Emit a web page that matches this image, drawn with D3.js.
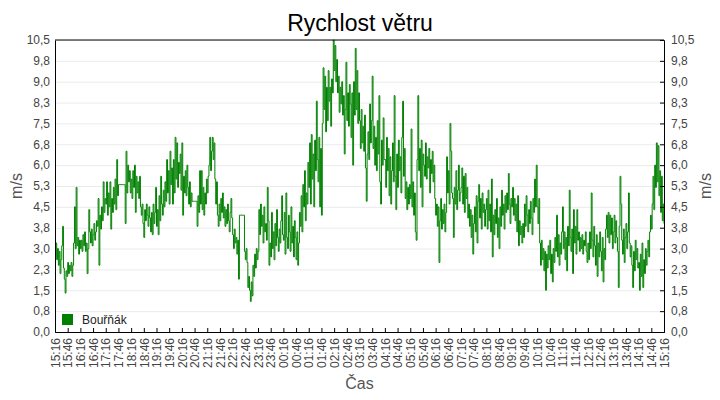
<!DOCTYPE html>
<html>
<head>
<meta charset="utf-8">
<title>Rychlost větru</title>
<script src="https://cdnjs.cloudflare.com/ajax/libs/d3/7.8.5/d3.min.js"></script>
<style>
body{
margin:0;
background:#fff
}
svg{
display:block;
font-family:"Liberation Sans",Arial,sans-serif
}
</style>
</head>
<body>
<svg width="720" height="400"></svg>

<script>

// wind speed, one reading every 2 minutes from 15:16 to 15:16 next day
var startTime = Date.UTC(2020, 0, 1, 15, 16)
var stepMinutes = 2
var speed = [
	// 15:16
	2.7,3.2,2.6,3.0,2.4,2.9,2.1,2.6,3.1,3.8,
	2.3,1.9,1.4,2.2,2.0,2.5,2.1,2.4,2.2,2.5,
	2.0,2.4,3.2,4.5,3.0,5.2,3.1,3.4,2.8,3.3,
	// 16:16
	3.0,3.3,2.9,3.5,3.1,3.6,2.9,3.2,2.1,3.0,
	4.4,3.6,3.2,3.7,3.1,3.5,3.9,3.3,3.6,4.0,
	3.8,4.8,2.4,4.2,3.7,4.5,4.0,5.4,4.3,4.8,
	// 17:16
	4.6,5.4,4.2,5.0,4.5,5.4,3.7,4.8,4.3,5.2,
	4.6,5.5,4.4,6.2,4.9,5.3,5.3,5.3,5.3,5.3,
	5.3,5.3,5.3,3.9,6.5,5.0,6.0,5.4,5.8,5.0,
	// 18:16
	5.5,4.8,5.8,5.2,6.0,4.3,5.6,5.0,5.4,4.8,
	5.6,4.5,4.2,4.6,3.9,3.4,4.4,4.0,4.6,4.2,
	3.8,4.5,4.1,3.6,4.3,3.5,4.6,3.9,4.3,5.2,
	// 19:16
	3.8,4.4,3.5,4.9,4.0,5.6,4.6,4.2,5.1,4.5,
	5.4,4.7,6.2,5.0,5.8,4.6,6.5,5.3,5.9,4.6,
	6.2,5.0,7.0,5.5,6.8,5.2,6.1,5.7,6.4,5.1,
	// 20:16
	6.8,4.2,5.6,5.0,5.8,4.9,6.0,5.2,4.6,5.4,
	4.5,5.0,4.7,4.7,4.7,4.7,4.7,4.7,3.8,4.9,
	4.3,5.8,4.6,5.8,4.4,5.2,4.2,5.0,4.6,5.5,
	// 21:16
	5.0,5.6,6.0,7.0,5.8,6.5,7.0,6.2,6.8,5.5,
	4.6,5.4,4.2,3.8,4.6,4.0,4.8,4.3,5.0,4.1,
	4.5,3.8,4.4,3.9,4.6,4.0,3.6,4.3,4.8,4.1,
	// 22:16
	3.5,3.0,3.7,3.2,3.4,2.8,3.3,1.9,4.2,4.2,
	4.2,4.2,4.2,4.2,2.9,2.6,3.0,2.5,1.6,2.0,
	1.5,1.1,1.8,1.3,2.4,2.0,2.8,2.3,3.0,2.6,
	// 23:16
	2.9,4.4,3.5,4.6,3.8,4.2,3.2,4.5,3.6,3.9,
	3.3,5.2,4.0,2.4,3.2,2.7,4.3,3.0,3.6,2.6,
	3.9,3.1,4.4,3.4,2.9,3.7,3.2,4.0,4.9,3.5,
	// 00:16
	3.3,4.3,2.8,5.0,3.4,3.0,4.2,3.6,2.9,4.5,
	3.2,3.8,2.7,4.0,3.4,2.6,3.6,2.4,3.2,4.3,
	3.8,4.9,3.6,5.3,4.5,5.8,4.0,5.0,4.6,6.1,
	// 01:16
	5.2,6.8,4.6,7.1,5.5,6.4,4.5,6.9,5.8,8.3,
	6.2,5.4,7.0,4.5,6.6,4.2,7.5,9.5,8.0,9.2,
	7.2,8.8,7.6,9.4,8.3,8.8,7.4,9.1,8.6,10.5,
	// 02:16
	9.4,10.3,9.0,9.8,8.6,9.2,7.9,8.8,8.2,9.0,
	7.8,8.5,6.4,8.0,9.7,7.6,8.6,7.4,8.9,8.2,
	7.0,8.6,6.0,9.0,7.8,10.2,8.0,9.4,7.5,8.6,
	// 03:16
	7.6,6.6,8.0,6.8,7.4,6.5,7.8,5.9,4.7,6.4,
	7.2,6.2,8.2,6.8,7.6,9.2,6.6,7.4,6.0,7.0,
	5.8,7.6,6.4,8.5,5.4,4.6,6.9,6.0,7.7,6.2,
	// 04:16
	6.2,5.2,7.0,5.8,6.6,4.9,6.3,4.6,5.8,6.8,
	5.4,8.5,5.6,4.4,6.4,5.2,6.9,5.8,6.3,5.0,
	7.0,8.3,5.6,6.6,4.8,5.4,4.4,5.2,4.6,5.3,
	// 05:16
	4.8,7.3,4.5,5.4,4.2,5.0,3.6,3.3,6.2,8.5,
	5.8,6.6,5.2,6.9,4.5,6.4,6.0,5.6,6.8,5.5,
	6.3,5.9,6.6,5.0,6.2,5.7,6.5,5.4,6.0,4.8,
	// 06:16
	4.2,4.6,3.8,4.5,2.5,4.0,4.8,3.7,4.4,3.9,
	4.6,3.6,4.3,6.3,5.0,5.8,4.6,7.5,6.5,5.0,
	4.8,3.4,5.2,4.6,5.8,4.4,5.1,6.0,4.7,5.0,
	// 07:16
	5.2,5.9,4.6,5.6,4.3,5.7,4.8,5.2,4.1,4.6,
	3.8,4.4,3.4,4.2,2.8,3.9,4.5,3.6,4.9,3.2,
	4.7,5.3,4.1,4.8,3.7,5.0,4.3,4.6,3.8,4.4,
	// 08:16
	4.8,3.7,5.1,4.0,4.6,3.6,5.5,2.7,4.2,3.5,
	4.4,3.9,4.8,3.4,4.1,3.0,4.5,3.8,5.1,4.2,
	4.6,3.7,4.9,4.3,5.0,4.4,5.7,4.6,3.9,4.8,
	// 09:16
	4.5,5.2,4.2,4.8,4.0,4.6,3.6,4.9,3.1,4.0,
	3.5,3.8,3.2,3.9,3.4,4.6,3.8,4.9,4.2,3.6,
	4.4,3.9,4.7,4.1,3.5,4.8,4.3,5.5,4.5,6.0,
	// 10:16
	4.5,3.9,4.8,3.2,2.4,3.3,2.6,3.0,2.2,2.9,
	1.5,2.8,2.3,3.1,2.6,3.3,2.1,2.8,1.8,3.0,
	2.5,3.4,2.9,4.2,2.7,3.5,2.4,3.2,2.8,3.6,
	// 11:16
	4.5,3.0,3.6,2.6,3.4,2.2,3.8,3.1,5.1,3.4,
	2.9,3.7,2.1,4.4,3.2,3.8,2.8,4.4,3.3,3.6,
	2.9,3.4,3.0,3.5,2.8,3.3,3.1,3.6,2.9,2.5,
	// 12:16
	3.2,2.6,3.6,3.0,5.0,3.3,2.7,3.8,3.1,2.4,
	3.5,2.0,3.2,2.7,3.6,2.9,2.2,3.4,1.8,3.0,
	2.6,3.7,4.2,3.4,4.3,3.2,4.2,3.5,4.1,3.0,
	// 13:16
	3.6,4.2,3.2,4.0,3.4,2.9,1.6,3.8,5.6,4.6,
	3.3,2.8,3.7,2.5,3.4,3.9,3.0,3.6,5.0,3.2,
	2.7,3.1,2.4,1.6,2.9,2.2,3.3,2.6,3.0,2.3,
	// 14:16
	2.5,1.5,2.8,2.0,3.2,1.6,2.6,2.1,3.0,2.4,
	2.9,3.3,2.7,3.6,4.2,3.7,4.6,5.6,4.4,6.0,
	5.2,6.8,5.4,6.7,4.9,5.8,4.3,5.6,4.0,4.6,
	// 15:16
	3.9
]
var yTicks = [0, 0.75, 1.5, 2.25, 3, 3.75, 4.5, 5.25, 6, 6.75, 7.5, 8.25, 9, 9.75, 10.5]
var xTickMinutes = 30
var xTickCount = 49
var seriesName = "Bouřňák"
var title = "Rychlost větru"
var yTitle = "m/s"
var xTitle = "Čas"

var svg = d3.select('svg')
var margin = {top: 40, right: 56, bottom: 68, left: 55}
var width = 720 - margin.left - margin.right
var height = 400 - margin.top - margin.bottom

var data = speed.map((v, i) => ({t: new Date(startTime + i * stepMinutes * 60000), v: v}))
var xTicks = d3.range(xTickCount).map(i => new Date(startTime + i * xTickMinutes * 60000))

var x = d3.scaleUtc()
	.domain([data[0].t, data[data.length - 1].t])
	.range([0, width])
var y = d3.scaleLinear()
	.domain([0, 10.5])
	.range([height, 0])

var fmtY = d => d.toFixed(1).replace('.', ',')

var g = svg.append('g').attr('transform', `translate(${margin.left},${margin.top})`)

// horizontal grid
g.append('g')
	.call(d3.axisLeft(y).tickValues(yTicks).tickSize(-width).tickFormat(''))
	.call(s => s.select('.domain').remove())
	.call(s => s.selectAll('line').attr('stroke', '#ebebeb'))

// series
var line = d3.line()
	.x(d => x(d.t))
	.y(d => y(d.v))
	.curve(d3.curveStepAfter)

g.append('path')
	.datum(data)
	.attr('fill', 'none')
	.attr('stroke', '#008000')
	.attr('stroke-width', 1)
	.attr('d', line)

// axes
g.append('g')
	.call(d3.axisLeft(y).tickValues(yTicks).tickSize(0).tickPadding(5).tickFormat(fmtY))
	.call(s => s.select('.domain').attr('stroke', '#000'))
	.call(s => s.selectAll('text').attr('fill', '#444').attr('font-size', 12).attr('font-family', null))

g.append('g')
	.attr('transform', `translate(${width},0)`)
	.call(d3.axisRight(y).tickValues(yTicks).tickSize(-4).tickPadding(7).tickFormat(fmtY))
	.call(s => s.select('.domain').attr('stroke', '#000'))
	.call(s => s.selectAll('line').attr('stroke', '#000'))
	.call(s => s.selectAll('text').attr('fill', '#444').attr('font-size', 12).attr('font-family', null))

g.append('g')
	.attr('transform', `translate(0,${height})`)
	.call(d3.axisBottom(x).tickValues(xTicks).tickSize(-4).tickFormat(d3.utcFormat('%H:%M')))
	.call(s => s.select('.domain').attr('stroke', '#000'))
	.call(s => s.selectAll('line').attr('stroke', '#000'))
	.call(s => s.selectAll('text')
		.attr('fill', '#444')
		.attr('font-size', 12)
		.attr('font-family', null)
		.attr('text-anchor', 'end')
		.attr('transform', 'rotate(-90)')
		.attr('x', -6)
		.attr('y', 0)
		.attr('dy', '0.35em'))

g.append('line')
	.attr('x1', 0).attr('x2', width)
	.attr('y1', 0).attr('y2', 0)
	.attr('stroke', '#000')

// legend
var legend = g.append('g').attr('transform', `translate(7,${height - 18})`)
legend.append('rect')
	.attr('width', 11).attr('height', 11)
	.attr('fill', '#008000')
legend.append('text')
	.attr('x', 20).attr('y', 10)
	.attr('font-size', 12)
	.attr('fill', '#222')
	.text(seriesName)

// titles
svg.append('text')
	.attr('x', 360).attr('y', 31)
	.attr('text-anchor', 'middle')
	.attr('font-size', 23)
	.attr('fill', '#000')
	.text(title)

svg.append('text')
	.attr('transform', `translate(22,${margin.top + height / 2}) rotate(-90)`)
	.attr('text-anchor', 'middle')
	.attr('font-size', 16)
	.attr('fill', '#555')
	.text(yTitle)

svg.append('text')
	.attr('transform', `translate(711,${margin.top + height / 2}) rotate(-90)`)
	.attr('text-anchor', 'middle')
	.attr('font-size', 16)
	.attr('fill', '#555')
	.text(yTitle)

svg.append('text')
	.attr('x', margin.left + width / 2).attr('y', 389)
	.attr('text-anchor', 'middle')
	.attr('font-size', 16)
	.attr('fill', '#555')
	.text(xTitle)

</script>
</body>
</html>
